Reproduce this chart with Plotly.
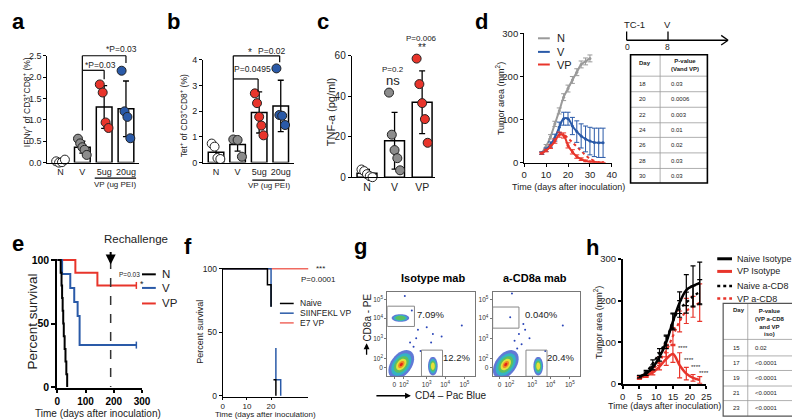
import numpy as np
import plotly.graph_objects as go

FONT = "Liberation Sans, Arial, Helvetica, sans-serif"
W, H = 800, 419
RED = "#e8352b"
BLUE = "#2a5aa8"
GRAY = "#8c8c8c"
LGRAY = "#9a9a9a"

# ---------------- data ----------------
# panel a
a_cats = ["N", "V", "5ug", "20ug"]
a_mean = [0.02, 0.36, 1.30, 1.26]
a_sd = [0.02, 0.14, 0.50, 0.65]
a_points = [[0.03, 0.0, 0.01, 0.07], [0.56, 0.45, 0.36, 0.30, 0.18],
            [1.83, 1.64, 0.94, 0.81], [2.15, 1.20, 1.07, 0.57]]
# panel b
b_cats = ["N", "V", "5ug", "20ug"]
b_mean = [0.40, 0.70, 1.95, 2.20]
b_sd = [0.25, 0.25, 0.80, 1.00]
b_points = [[0.74, 0.62, 0.18, 0.14], [0.90, 0.88, 0.23],
            [2.69, 2.31, 1.78, 1.44, 1.06], [3.66, 1.85, 1.82, 1.46]]
# panel c
c_cats = ["N", "V", "VP"]
c_mean = [2.0, 18.0, 37.0]
c_sd = [1.8, 14.0, 15.5]
c_points = [[3.8, 3.0, 1.5, 0.5, 0.0], [41.8, 21.0, 13.4, 9.4, 3.4],
            [58.6, 46.0, 36.6, 28.7, 17.0]]
# panel d
d_days_N = [8, 10, 12, 14, 16, 18, 20, 22, 24, 26, 28, 30]
d_N = [22, 38, 60, 90, 120, 152, 172, 192, 210, 228, 235, 242]
d_N_err = [3, 4, 5, 6, 7, 8, 8, 8, 8, 8, 8, 8]
d_days_V = [8, 10, 12, 14, 16, 18, 20, 22, 24, 26, 28, 30, 32, 34, 36]
d_V = [22, 30, 42, 58, 82, 102, 102, 85, 72, 62, 55, 50, 47, 46, 46]
d_V_err = [3, 4, 6, 8, 12, 15, 15, 20, 25, 28, 30, 32, 33, 34, 34]
d_days_VP = [8, 10, 12, 14, 16, 18, 20, 22, 24, 26, 28, 30, 32, 34, 36]
d_VP = [22, 28, 37, 50, 65, 63, 40, 25, 14, 8, 4, 2, 1, 0.5, 0]
d_VP_err = [2, 3, 4, 5, 6, 6, 6, 5, 4, 3, 2, 1, 1, 0, 0]
d_days_VP2 = [16, 18, 20, 22, 24, 26, 28, 30, 32]
d_VP2 = [66, 65, 57, 47, 37, 27, 17, 9, 4]
d_tab_days = ["18", "20", "22", "24", "26", "28", "30"]
d_tab_p = ["0.03", "0.0006", "0.003", "0.01", "0.02", "0.03", "0.03"]
# panel e
e_N_t = [0, 12, 15, 17, 19, 21, 23, 26, 29, 32, 35]
e_N_s = [100, 90, 80, 70, 60, 50, 40, 30, 20, 10, 0]
e_V_t = [0, 17, 46, 60, 72, 79, 280]
e_V_s = [100, 89, 78, 67, 56, 33, 33]
e_VP_t = [0, 64, 142, 280]
e_VP_s = [100, 90, 80, 80]
e_rechallenge = 189
# panel f
f_naive_t = [0, 18.5, 20, None, 21, 22]
f_naive_s = [100, 87.5, 70, None, 12.5, 0]
f_siin_t = [0, 20, None, 22, 22, 24]
f_siin_s = [100, 70, None, 37.5, 12.5, 0]
f_e7_t = [0, 35.5]
f_e7_s = [100, 100]
# panel g (display units 0..1 on a logicle-like scale)
g_ticks = [0.08, 0.19, 0.45, 0.66, 0.88]
g_yticks = [0.10, 0.21, 0.45, 0.69, 0.91]
g_ticktext = ["0", "10<sup>2</sup>", "10<sup>3</sup>", "10<sup>4</sup>", "10<sup>5</sup>"]
g1_cl_x = [0.16, 0.15, 0.52]
g1_cl_y = [0.14, 0.69, 0.12]
g1_cl_rx = [0.19, 0.10, 0.055]
g1_cl_ry = [0.12, 0.045, 0.11]
g1_cl_ang = [55, 0, 0]
g1_cl_lvl = [6, 3, 4]
g2_cl_x = [0.15, 0.52]
g2_cl_y = [0.14, 0.12]
g2_cl_rx = [0.19, 0.055]
g2_cl_ry = [0.12, 0.11]
g2_cl_ang = [55, 0]
g2_cl_lvl = [6, 4]
g1_dots_x = [0.35, 0.50, 0.30, 0.45, 0.62, 0.28, 0.20, 0.85, 0.52, 0.33, 0.26, 0.38]
g1_dots_y = [0.55, 0.40, 0.35, 0.58, 0.47, 0.78, 0.95, 0.60, 0.50, 0.45, 0.40, 0.30]
g2_dots_x = [0.20, 0.35, 0.30, 0.42, 0.25, 0.60, 0.80, 0.22, 0.33, 0.28, 0.37]
g2_dots_y = [0.70, 0.62, 0.50, 0.45, 0.42, 0.30, 0.60, 0.98, 0.38, 0.33, 0.55]
g_gate8 = [[0.0, 0.31, 0.59, 0.83], [0.0, 0.30, 0.57, 0.82]]
g_gate4 = [[0.39, 0.63, 0.0, 0.31], [0.38, 0.62, 0.0, 0.31]]
g_pct8 = ["7.09%", "0.040%"]
g_pct4 = ["12.2%", "20.4%"]
# panel h
h_days = [5, 7, 9, 11, 13, 15, 17, 19, 21, 23]
h_naive_iso = [18, 25, 40, 65, 100, 150, 195, 225, 235, 242]
h_naive_iso_err = [3, 4, 6, 10, 15, 20, 26, 37, 48, 50]
h_vp_iso = [15, 20, 28, 42, 60, 72, 45, 25, 15, 10]
h_vp_iso_err = [3, 4, 6, 8, 15, 20, 30, 15, 8, 8]
h_naive_cd8 = [17, 28, 50, 75, 105, 150, 180, 195, 210, 220]
h_naive_cd8_err = [3, 5, 8, 10, 12, 18, 20, 25, 25, 30]
h_vp_cd8 = [15, 22, 35, 55, 80, 115, 150, 175, 185, 195]
h_vp_cd8_err = [3, 4, 6, 10, 15, 20, 25, 30, 25, 45]
h_tab_days = ["15", "17", "19", "21", "23"]
h_tab_p = ["0.02", "<0.0001", "<0.0001", "<0.0001", "<0.0001"]

# ---------------- helpers ----------------
fig = go.Figure()
shapes, annos = [], []
P = {}


def sfx(n):
    return "" if n == 1 else str(n)


def axes(n, x0, x1, y0, y1, xr, yr, xextra=None, yextra=None, lw=1.2):
    s = sfx(n)
    base = dict(showline=True, linecolor="black", linewidth=lw, ticks="outside",
                ticklen=3, tickwidth=lw, tickcolor="black", showgrid=False,
                zeroline=False, fixedrange=True,
                tickfont=dict(family=FONT, size=9, color="#222"))
    xa = {**base, "domain": [x0 / W, x1 / W], "range": xr, "anchor": "y" + s, **(xextra or {})}
    ya = {**base, "domain": [1 - y1 / H, 1 - y0 / H], "range": yr, "anchor": "x" + s, **(yextra or {})}
    fig.update_layout(**{"xaxis" + s: xa, "yaxis" + s: ya})
    P[n] = (x0, x1, y0, y1, xr, yr)


def to_px(n, xv, yv):
    x0, x1, y0, y1, xr, yr = P[n]
    return (x0 + (xv - xr[0]) / (xr[1] - xr[0]) * (x1 - x0),
            y1 - (yv - yr[0]) / (yr[1] - yr[0]) * (y1 - y0))


def L(x0, y0, x1, y1, color="black", w=1.2, dash="solid"):
    shapes.append(dict(type="line", xref="paper", yref="paper", x0=x0 / W, y0=1 - y0 / H,
                       x1=x1 / W, y1=1 - y1 / H, line=dict(color=color, width=w, dash=dash)))


def R(x0, y0, x1, y1, color="black", w=1.2):
    shapes.append(dict(type="rect", xref="paper", yref="paper", x0=x0 / W, y0=1 - y0 / H,
                       x1=x1 / W, y1=1 - y1 / H, line=dict(color=color, width=w)))


def T(x, y, s, size=9, bold=False, color="#222", xa="center", ya="middle", angle=0):
    annos.append(dict(x=x / W, y=1 - y / H, xref="paper", yref="paper",
                      text=("<b>%s</b>" % s) if bold else s, showarrow=False,
                      font=dict(family=FONT, size=size, color=color),
                      xanchor=xa, yanchor=ya, textangle=angle))


def ARROW(xt, yt, ax, ay, w=1.5, head=2, size=1.0):
    annos.append(dict(x=xt / W, y=1 - yt / H, xref="paper", yref="paper", text="",
                      showarrow=True, ax=ax, ay=ay, arrowhead=head, arrowsize=size,
                      arrowwidth=w, arrowcolor="black"))


def ids(n):
    return dict(xaxis="x" + sfx(n), yaxis="y" + sfx(n))


def bracket(n, xa_, xb_, ytop, ya_bot, yb_bot):
    x1, yt = to_px(n, xa_, ytop)
    x2, _ = to_px(n, xb_, ytop)
    _, y1b = to_px(n, xa_, ya_bot)
    _, y2b = to_px(n, xb_, yb_bot)
    L(x1, y1b, x1, yt)
    L(x1, yt, x2, yt)
    L(x2, yt, x2, y2b)


def bar_panel(n, cats, means, sds, pts, colors):
    idx = list(range(len(cats)))
    fig.add_trace(go.Bar(x=idx, y=means, width=0.72,
                         marker=dict(color="white", line=dict(color="black", width=1.5)),
                         error_y=dict(type="data", array=sds, color="black", thickness=1.3, width=3),
                         **ids(n)))
    for i, (vals, c) in enumerate(zip(pts, colors)):
        m = len(vals)
        off = np.linspace(-0.2, 0.2, m) if m > 1 else np.zeros(1)
        fig.add_trace(go.Scatter(x=i + off, y=vals, mode="markers", cliponaxis=False,
                                 marker=dict(size=9, color=c, line=dict(color="#222", width=1)),
                                 **ids(n)))


def cat_x(cats, size=9):
    return dict(ticks="", tickvals=list(range(len(cats))), ticktext=cats,
                tickfont=dict(family=FONT, size=size, color="#222"))


# ---------------- panel a ----------------
axes(1, 37, 130, 43, 153, [-0.6, 3.6], [0, 2.5], xextra=cat_x(a_cats),
     yextra=dict(tickvals=[0, 0.5, 1, 1.5, 2, 2.5], tickformat=".1f"))
bar_panel(1, a_cats, a_mean, a_sd, a_points, ["white", GRAY, RED, BLUE])
bracket(1, 1, 2, 2.16, 0.75, 1.95)
bracket(1, 1, 3, 2.5, 2.16, 2.33)
T(73, 52, "*P=0.03", 8.5, xa="left")
T(94, 36, "*P=0.03", 8.5, xa="left")
L(85, 169, 127, 169)
T(106, 176, "VP (ug PEI)", 8)
T(16, 91, "IFNγ<sup>+</sup> of CD3<sup>+</sup>CD8<sup>+</sup> (%)", 8.5, angle=-90)
T(-1, 8, "a", 22, bold=True, color="black", xa="left")

# ---------------- panel b ----------------
axes(2, 195, 287, 47, 153, [-0.6, 3.6], [0, 4], xextra=cat_x(b_cats),
     yextra=dict(tickvals=[0, 1, 2, 3, 4]))
bar_panel(2, b_cats, b_mean, b_sd, b_points, ["white", GRAY, RED, BLUE])
bracket(2, 0.8, 1.95, 3.25, 1.18, 2.75)
bracket(2, 0.8, 2.95, 4.15, 3.25, 3.9)
T(245, 57, "P=0.0495", 8.5)
T(243, 40, "*", 10)
T(264, 38, "P=0.02", 8.5)
L(245, 171, 278, 171)
T(262, 177, "VP (ug PEI)", 8)
T(176, 105, "Tet<sup>+</sup> of CD3<sup>+</sup>CD8<sup>+</sup> (%)", 8.5, angle=-90)
T(156, 8, "b", 22, bold=True, color="black", xa="left")

# ---------------- panel c ----------------
axes(3, 346, 430, 43, 168, [-0.55, 2.45], [0, 60], xextra=cat_x(c_cats, 10.5),
     yextra=dict(tickvals=[0, 20, 40, 60], tickfont=dict(family=FONT, size=10, color="#222")))
bar_panel(3, c_cats, c_mean, c_sd, c_points, ["white", GRAY, RED])
T(388, 57, "P=0.2", 8)
T(388, 68, "ns", 13)
T(417, 25, "P=0.006", 8)
T(417, 34, "**", 10)
T(325, 101, "TNF-a (pg/ml)", 11, angle=-90)
T(309, 8, "c", 22, bold=True, color="black", xa="left")

# ---------------- panel d ----------------
axes(4, 521, 610, 20, 153, [0, 40], [0, 300],
     xextra=dict(tickvals=[0, 10, 20, 30, 40], tickfont=dict(family=FONT, size=9.5, color="#222")),
     yextra=dict(tickvals=[0, 100, 200, 300], tickfont=dict(family=FONT, size=9.5, color="#222")))
fig.add_trace(go.Scatter(x=d_days_VP2, y=d_VP2, mode="lines", line=dict(color=RED, width=2, dash="dot", shape="spline"), **ids(4)))
fig.add_trace(go.Scatter(x=d_days_N, y=d_N, mode="lines+markers", line=dict(color=LGRAY, width=2, shape="spline"),
                         marker=dict(size=3, color=LGRAY),
                         error_y=dict(type="data", array=d_N_err, color=LGRAY, thickness=1, width=2.5), **ids(4)))
fig.add_trace(go.Scatter(x=d_days_V, y=d_V, mode="lines+markers", line=dict(color=BLUE, width=2, shape="spline"),
                         marker=dict(size=3, color=BLUE),
                         error_y=dict(type="data", array=d_V_err, color=BLUE, thickness=1, width=2.5), **ids(4)))
fig.add_trace(go.Scatter(x=d_days_VP, y=d_VP, mode="lines+markers", line=dict(color=RED, width=2, shape="spline"),
                         marker=dict(size=3, color=RED),
                         error_y=dict(type="data", array=d_VP_err, color=RED, thickness=1, width=2.5), **ids(4)))
for yy, col, lab in [(25, LGRAY, "N"), (39, BLUE, "V"), (52, RED, "VP")]:
    L(535, yy, 547, yy, col, 2)
    T(552, yy, lab, 11, xa="left")
T(496, 87, "Tumor area (mm<sup>2</sup>)", 9, angle=-90)
T(566, 178, "Time (days after inoculation)", 9)
T(469, 8, "d", 22, bold=True, color="black", xa="left")
# timeline
L(625, 27, 727, 27, w=1.3)
L(625, 18, 625, 27, w=1.3)
L(667, 18, 667, 27, w=1.3)
L(721, 22, 728, 27, w=1.3)
L(721, 32, 728, 27, w=1.3)
T(633, 11, "TC-1", 9.5)
T(667, 11, "V", 9.5)
T(626, 34, "0", 8.5)
T(667, 34, "8", 8.5)
# table d
tx0, tx1, tcol, ty0, ty1 = 629, 707, 659, 42, 174
d_rows = [64, 80, 96, 112, 127, 143, 159, 174]
for yy in d_rows[:-1]:
    L(tx0, yy, tx1, yy, "#9a9a9a", 0.8)
L(tcol, ty0, tcol, ty1, "#9a9a9a", 0.8)
R(tx0, ty0, tx1, ty1, "black", 1.6)
T(636, 50, "Day", 6, bold=True, xa="left")
T(668, 53, "P-value<br>(Vand VP)", 6, bold=True, xa="left")
for i, (dd, pp) in enumerate(zip(d_tab_days, d_tab_p)):
    yc = (d_rows[i] + d_rows[i + 1]) / 2
    T(636, yc, dd, 6, xa="left")
    T(668, yc, pp, 6, xa="left")

# ---------------- panel e ----------------
axes(5, 47, 133, 252, 385, [0, 300], [-0.8, 101], lw=2,
     xextra=dict(tickvals=[0, 100, 200, 300], ticktext=["<b>0</b>", "<b>100</b>", "<b>200</b>", "<b>300</b>"],
                 tickfont=dict(family=FONT, size=10, color="black"), ticklen=3),
     yextra=dict(tickvals=[0, 50, 100], ticktext=["<b>0</b>", "<b>50</b>", "<b>100</b>"],
                 tickfont=dict(family=FONT, size=10.5, color="black"), ticklen=4))
fig.add_trace(go.Scatter(x=e_VP_t, y=e_VP_s, mode="lines", line=dict(color=RED, width=2, shape="hv"), **ids(5)))
fig.add_trace(go.Scatter(x=e_V_t, y=e_V_s, mode="lines", line=dict(color=BLUE, width=2, shape="hv"), **ids(5)))
fig.add_trace(go.Scatter(x=e_N_t, y=e_N_s, mode="lines", line=dict(color="black", width=2, shape="hv"), **ids(5)))
fig.add_trace(go.Scatter(x=[e_V_t[-1], e_VP_t[-1]], y=[e_V_s[-1], e_VP_s[-1]], mode="markers", cliponaxis=False,
                         marker=dict(symbol="line-ns", size=5, line=dict(width=1.5, color=[BLUE, RED])), **ids(5)))
xr_px, ytop_px = to_px(5, e_rechallenge, 100)
_, ybot_px = to_px(5, e_rechallenge, 0)
L(xr_px, ytop_px, xr_px, ybot_px, "#333", 1.5, "dash")
ARROW(xr_px, 258, 0, -14, w=2, head=2, size=1)
T(127, 232, "Rechallenge", 11.5)
T(120, 268, "P=0.03", 6.5)
T(133, 278, "*", 9)
for yy, col, lab in [(268, "black", "N"), (282, BLUE, "V"), (298, RED, "VP")]:
    L(133, yy, 147, yy, col, 2)
    T(151, yy, lab, 11.5, xa="left")
T(22, 317, "Percent survival", 13.5, angle=-90)
T(88, 411.5, "Time (days after inoculation)", 10)
T(-1, 236, "e", 22, bold=True, color="black", xa="left")

# ---------------- panel f ----------------
axes(6, 215, 302, 261, 394, [0, 35.5], [-0.8, 101],
     xextra=dict(tickvals=[0, 10, 20], ticklen=2, tickfont=dict(family=FONT, size=8, color="#222")),
     yextra=dict(tickvals=[0, 50, 100], tickfont=dict(family=FONT, size=8.5, color="#222")))
fig.add_trace(go.Scatter(x=f_e7_t, y=f_e7_s, mode="lines", line=dict(color="#f06a60", width=1.5, shape="hv"), **ids(6)))
fig.add_trace(go.Scatter(x=f_siin_t, y=f_siin_s, mode="lines", line=dict(color=BLUE, width=1.5, shape="hv"), **ids(6)))
fig.add_trace(go.Scatter(x=f_naive_t, y=f_naive_s, mode="lines", line=dict(color="black", width=1.5, shape="hv"), **ids(6)))
T(314, 262, "***", 8)
T(312, 273, "P=0.0001", 8)
for yy, col, lab in [(298, "black", "Naive"), (308, BLUE, "SIINFEKL VP"), (318, "#f06a60", "E7 VP")]:
    L(273, yy, 287, yy, col, 1.5)
    T(291, yy, lab, 8.5, xa="left")
T(192, 327, "Percent survival", 9, angle=-90)
T(258, 412, "Time (days after inoculation)", 8)
T(174, 239, "f", 22, bold=True, color="black", xa="left")

# ---------------- panel g ----------------
LEVELS = ["#3a58cc", "#34b3c4", "#5cc060", "#e4e03a", "#f08a24", "#e2231a"]
SCALE = [1.0, 0.78, 0.58, 0.40, 0.25, 0.12]


def ellipse_path(cx, cy, rx, ry, ang, n=32):
    t = np.linspace(0, 2 * np.pi, n, endpoint=False)
    a = np.radians(ang)
    xs = cx + rx * np.cos(t) * np.cos(a) - ry * np.sin(t) * np.sin(a)
    ys = cy + rx * np.cos(t) * np.sin(a) + ry * np.sin(t) * np.cos(a)
    return "M " + " L ".join("%.4f,%.4f" % (x, y) for x, y in zip(xs, ys)) + " Z"


g_panels = [
    (7, 382, 471, g1_cl_x, g1_cl_y, g1_cl_rx, g1_cl_ry, g1_cl_ang, g1_cl_lvl, g1_dots_x, g1_dots_y),
    (8, 489, 578, g2_cl_x, g2_cl_y, g2_cl_rx, g2_cl_ry, g2_cl_ang, g2_cl_lvl, g2_dots_x, g2_dots_y),
]
for k, (n, x0, x1, cx, cy, rx, ry, ang, lvl, dx, dy) in enumerate(g_panels):
    gax = dict(mirror=True, linecolor="#777", linewidth=1, ticklen=2, tickwidth=1, tickcolor="#777",
               tickfont=dict(family=FONT, size=6.5, color="#333"), ticktext=g_ticktext)
    axes(n, x0, x1, 286, 373, [0, 1], [0, 1],
         xextra={**gax, "tickvals": g_ticks}, yextra={**gax, "tickvals": g_yticks})
    for j in range(len(cx)):
        for l in range(lvl[j]):
            shapes.append(dict(type="path", xref="x" + sfx(n), yref="y" + sfx(n),
                               path=ellipse_path(cx[j], cy[j], rx[j] * SCALE[l], ry[j] * SCALE[l], ang[j]),
                               fillcolor=LEVELS[l], opacity=0.8 if l == 0 else 1.0,
                               line=dict(width=0), layer="above"))
    fig.add_trace(go.Scatter(x=dx, y=dy, mode="markers", marker=dict(size=2, color="#2a45b8"), **ids(n)))
    g8, g4 = g_gate8[k], g_gate4[k]
    for gg in (g8, g4):
        shapes.append(dict(type="rect", xref="x" + sfx(n), yref="y" + sfx(n), x0=gg[0], x1=gg[1],
                           y0=gg[2], y1=gg[3], line=dict(color="#888", width=1), layer="above"))
T(428, 272, "Isotype mab", 11, bold=True, color="black")
T(532, 272, "a-CD8a mab", 11, bold=True, color="black")
T(426, 309, g_pct8[0], 9.5)
T(452, 354, g_pct4[0], 9.5)
T(539, 309, g_pct8[1], 9.5)
T(558, 354, g_pct4[1], 9.5)
T(361, 313, "CD8a - PE", 10, angle=-90)
ARROW(361, 339, 0, 13, w=1.3, head=2, size=0.9)
ARROW(406, 393, -36, 0, w=1.3, head=2, size=0.9)
T(408, 393, "CD4 – Pac Blue", 10, xa="left")
T(346, 239, "g", 22, bold=True, color="black", xa="left")

# ---------------- panel h ----------------
axes(9, 621, 706, 252, 381, [0, 25], [0, 300], lw=1.5,
     xextra=dict(tickvals=[0, 5, 10, 15, 20, 25], tickfont=dict(family=FONT, size=9.5, color="#222")),
     yextra=dict(tickvals=[0, 100, 200, 300], tickfont=dict(family=FONT, size=9.5, color="#222")))
fig.add_trace(go.Scatter(x=h_days, y=h_vp_cd8, mode="lines", line=dict(color=RED, width=2.2, dash="dot", shape="spline"),
                         error_y=dict(type="data", array=h_vp_cd8_err, color=RED, thickness=1.2, width=2.5), **ids(9)))
fig.add_trace(go.Scatter(x=h_days, y=h_naive_cd8, mode="lines", line=dict(color="black", width=2.2, dash="dot", shape="spline"),
                         error_y=dict(type="data", array=h_naive_cd8_err, color="black", thickness=1.2, width=2.5), **ids(9)))
fig.add_trace(go.Scatter(x=h_days, y=h_vp_iso, mode="lines", line=dict(color=RED, width=2.5, shape="spline"),
                         error_y=dict(type="data", array=h_vp_iso_err, color=RED, thickness=1.2, width=2.5), **ids(9)))
fig.add_trace(go.Scatter(x=h_days, y=h_naive_iso, mode="lines", line=dict(color="black", width=2.5, shape="spline"),
                         error_y=dict(type="data", array=h_naive_iso_err, color="black", thickness=1.2, width=2.5), **ids(9)))
for dd, vv in [(15.8, 86), (17.8, 58), (19.8, 41), (22.2, 26)]:
    xx, yy = to_px(9, dd, vv)
    T(xx, yy, "****", 6, xa="left")
for yy, col, dsh, lab in [(252, "black", "solid", "Naive Isotype"), (265, RED, "solid", "VP Isotype"),
                          (280, "black", "dot", "Naive a-CD8"), (293, RED, "dot", "VP a-CD8")]:
    L(717, yy, 732, yy, col, 3 if dsh == "solid" else 2.5, dsh)
    T(735, yy, lab, 9, xa="left")
T(596, 318, "Tumor area (mm<sup>2</sup>)", 9, angle=-90)
T(663, 404, "Time (days after inoculation)", 9)
T(582, 240, "h", 22, bold=True, color="black", xa="left")
# table h
hx0, hx1, hcol, hy0, hy1 = 723, 799, 748, 298, 414
h_rows = [335, 352, 367, 383, 398, 414]
for yy in h_rows[:-1]:
    L(hx0, yy, hx1, yy, "#9a9a9a", 0.8)
L(hcol, hy0, hcol, hy1, "#9a9a9a", 0.8)
R(hx0, hy0, hx1, hy1, "#555", 1.2)
T(731, 305, "Day", 6, bold=True, xa="left")
T(753, 301, "P-value<br>(VP a-CD8<br>and VP<br>iso)", 6, bold=True, xa="left", ya="top")
for i, (dd, pp) in enumerate(zip(h_tab_days, h_tab_p)):
    yc = (h_rows[i] + h_rows[i + 1]) / 2
    T(731, yc, dd, 6, xa="left")
    T(753, yc, pp, 6, xa="left")

fig.update_layout(width=W, height=H, margin=dict(l=0, r=0, t=0, b=0),
                  paper_bgcolor="white", plot_bgcolor="rgba(0,0,0,0)", showlegend=False,
                  font=dict(family=FONT, size=9, color="#222"),
                  shapes=shapes, annotations=annos, bargap=0.3)
fig.write_html("out.html")
